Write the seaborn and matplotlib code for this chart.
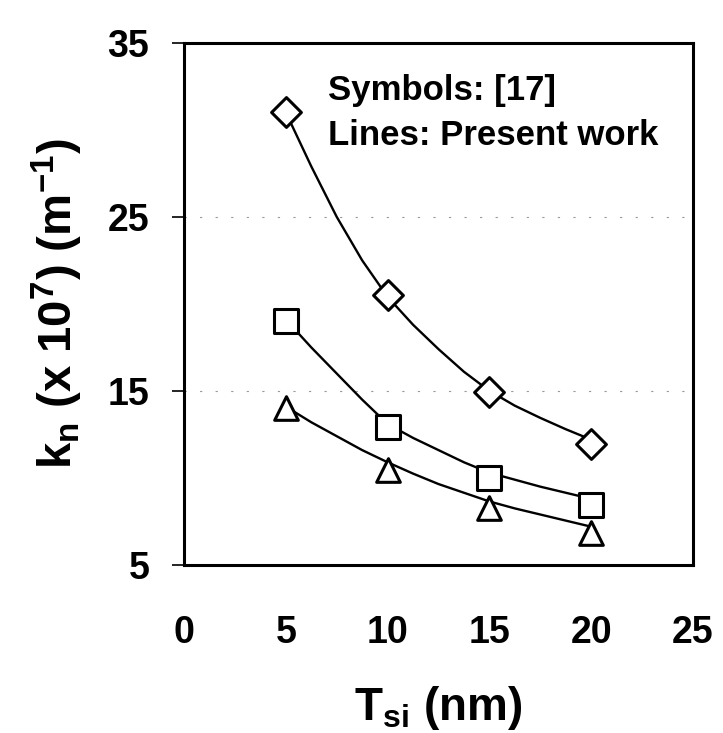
import numpy as np
import pandas as pd
import matplotlib
matplotlib.use('Agg')
import matplotlib.pyplot as plt
import seaborn as sns

# symbols: data from ref [17]
t_si = [5, 10, 15, 20]
kn_diamond = [31.0, 20.5, 14.95, 11.95]
kn_square = [19.0, 12.95, 10.0, 8.45]
kn_triangle = [14.0, 10.45, 8.3, 6.85]

# lines: present work
t_line = [5, 6.25, 7.5, 8.75, 10, 11.25, 12.5, 13.75, 15, 16.25, 17.5, 18.75, 20]
line_diamond = [31.0, 27.9, 25.0, 22.5, 20.4, 18.8, 17.4, 16.1, 15.0, 14.15, 13.45, 12.8, 12.2]
line_square = [19.1, 17.5, 16.0, 14.5, 13.1, 12.3, 11.6, 10.9, 10.3, 9.9, 9.5, 9.15, 8.8]
line_triangle = [14.1, 13.2, 12.4, 11.6, 10.9, 10.25, 9.65, 9.15, 8.65, 8.25, 7.9, 7.55, 7.2]

x_ticks = [0, 5, 10, 15, 20, 25]
y_ticks = [5, 15, 25, 35]

sns.set_style('white')
plt.rcParams['font.family'] = ['Liberation Sans', 'DejaVu Sans']
plt.rcParams['font.weight'] = 'bold'
plt.rcParams['text.color'] = 'black'
plt.rcParams['axes.labelcolor'] = 'black'
plt.rcParams['xtick.color'] = 'black'
plt.rcParams['ytick.color'] = 'black'
plt.rcParams['mathtext.fontset'] = 'custom'
plt.rcParams['mathtext.rm'] = 'Liberation Sans:bold'
plt.rcParams['mathtext.it'] = 'Liberation Sans:bold'
plt.rcParams['mathtext.bf'] = 'Liberation Sans:bold'
plt.rcParams['mathtext.default'] = 'regular'

fig = plt.figure(figsize=(7.23, 7.33), dpi=100)
ax = fig.add_axes([0.2545, 0.2292, 0.704, 0.7125])

lines = {'diamond': line_diamond, 'square': line_square, 'triangle': line_triangle}
symbols = {'diamond': (kn_diamond, 'D', 230), 'square': (kn_square, 's', 300), 'triangle': (kn_triangle, '^', 290)}

for name, yv in lines.items():
    df_l = pd.DataFrame({'t': t_line, 'k': yv})
    sns.lineplot(data=df_l, x='t', y='k', color='black', linewidth=1.7, ax=ax, zorder=2)

for name, (yv, mk, sz) in symbols.items():
    df_s = pd.DataFrame({'t': t_si, 'k': yv})
    sns.scatterplot(data=df_s, x='t', y='k', marker=mk, s=sz, facecolor='white',
                    edgecolor='black', linewidth=2.2, ax=ax, zorder=3)

ax.set_xlim(0, 25)
ax.set_ylim(5, 35)
ax.set_xticks(x_ticks)
ax.set_yticks(y_ticks)
ax.yaxis.grid(True, linestyle=(0, (2, 12)), color='0.6', linewidth=0.8)
ax.set_axisbelow(True)

for sp in ax.spines.values():
    sp.set_visible(True)
    sp.set_color('black')
    sp.set_linewidth(2.2)

ax.tick_params(axis='y', direction='out', length=9, width=1.2, pad=16, labelsize=27, left=True)
ax.tick_params(axis='x', length=0, pad=36, labelsize=27)

ax.set_xlabel('T$_{si}$ (nm)', fontsize=33, fontweight='bold', labelpad=24)
ax.set_ylabel('k$_n$ (x 10$^7$) (m$^{-1}$)', fontsize=34, fontweight='bold', labelpad=16)

ax.text(0.283, 0.890, 'Symbols: [17]', transform=ax.transAxes, fontsize=25, fontweight='bold', va='baseline')
ax.text(0.283, 0.804, 'Lines: Present work', transform=ax.transAxes, fontsize=25, fontweight='bold', va='baseline')

plt.savefig('out.png', dpi=100)
